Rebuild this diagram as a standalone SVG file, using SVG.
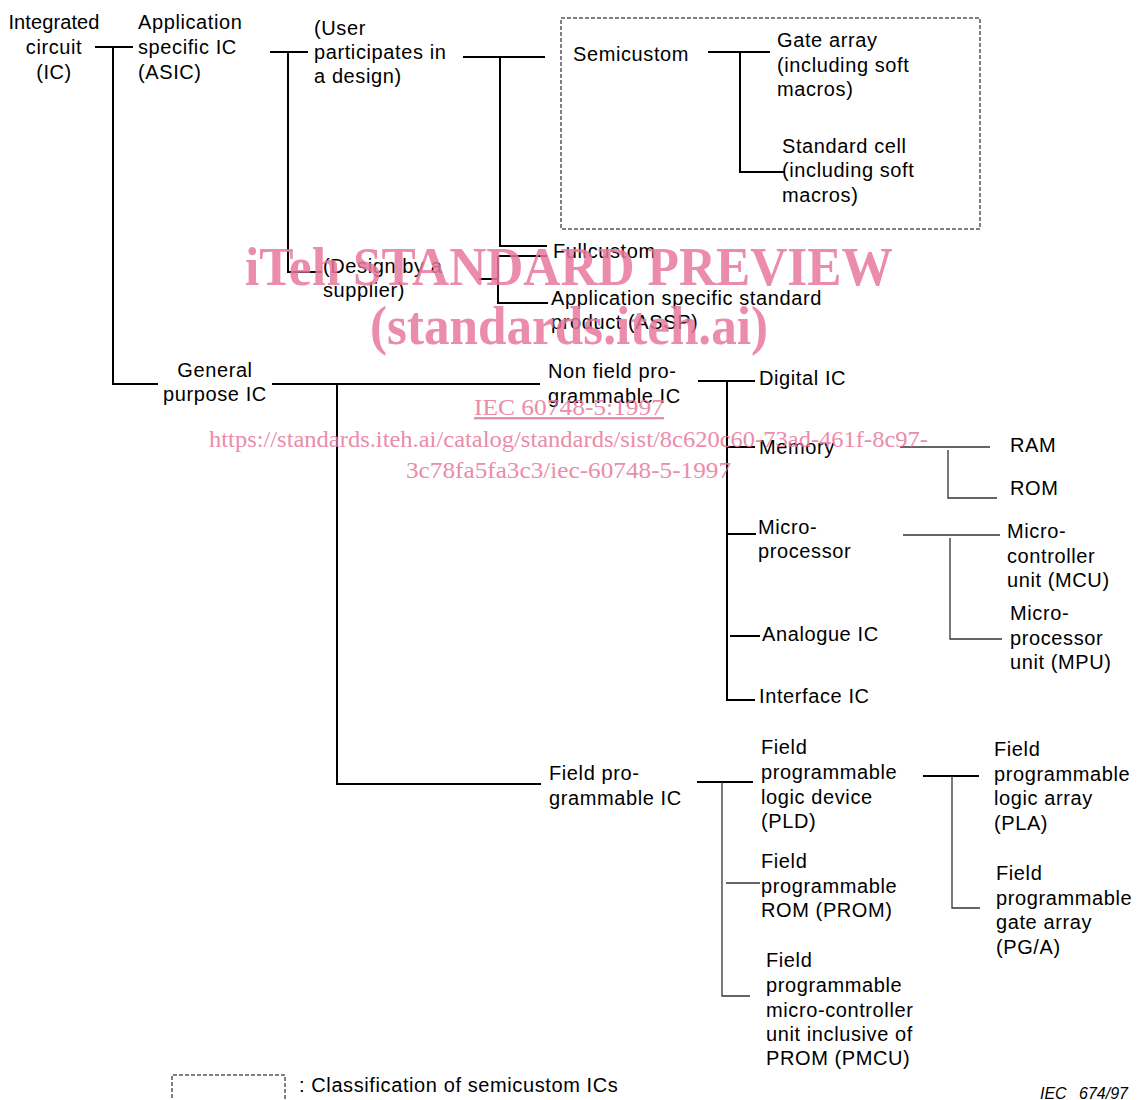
<svg xmlns="http://www.w3.org/2000/svg" width="1137" height="1100" viewBox="0 0 1137 1100">
<style>
text{font-family:"Liberation Sans",Arial,sans-serif;font-size:20px;letter-spacing:0.6px;fill:#000}
.c{text-anchor:middle}
.l{fill:none;stroke:#000;stroke-width:2}
.t{fill:none;stroke:#333;stroke-width:1.3}
.d{fill:none;stroke:#000;stroke-width:1;stroke-dasharray:4 2}
.wm{font-family:"Liberation Serif","Times New Roman",serif;fill:#e8789c;opacity:0.85;letter-spacing:0}
.wb{font-weight:bold;font-size:54px}
.wu{font-size:24px}
.ref{font-size:16px;font-style:italic;letter-spacing:0}
</style>
<rect width="1137" height="1100" fill="#fff"/>
<g id="connectors">
<path class="l" d="M95 47H133M113 47V384H158"/>
<path class="l" d="M270 52H308M288 52V272H322"/>
<path class="l" d="M463 57H545M500 57V246H547"/>
<path class="l" d="M498 256H547M498 256V303H548M479 279H498"/>
<path class="l" d="M708 52H770M740 52V172H785"/>
<path class="l" d="M272 384H540M337 384V784H541"/>
<path class="l" d="M698 381H755M727 381V700H755M727 447H755M727 534H756M730 636H760"/>
<path class="t" d="M900 447H990M948 450V498H997"/>
<path class="t" d="M903 535H1000M950 538V639H1002"/>
<path class="l" d="M697 782H753"/>
<path class="t" d="M722 782V996H750M726 883H760"/>
<path class="l" d="M923 776H979"/>
<path class="t" d="M952 776V908H980"/>
</g>
<g id="semicustom-box"><rect class="d" x="561" y="18" width="419" height="211"/></g>
<g id="ic"><text class="c" x="54" y="29" style="letter-spacing:0.1px">Integrated</text><text class="c" x="54" y="54">circuit</text><text class="c" x="54" y="79">(IC)</text></g>
<g id="asic"><text x="138" y="29">Application</text><text x="138" y="54">specific IC</text><text x="138" y="79">(ASIC)</text></g>
<g id="user"><text x="314" y="35">(User</text><text x="314" y="59">participates in</text><text x="314" y="83">a design)</text></g>
<g id="semicustom"><text x="573" y="61">Semicustom</text></g>
<g id="gate-array"><text x="777" y="47">Gate array</text><text x="777" y="72">(including soft</text><text x="777" y="96">macros)</text></g>
<g id="standard-cell"><text x="782" y="153">Standard cell</text><text x="782" y="177">(including soft</text><text x="782" y="202">macros)</text></g>
<g id="fullcustom"><text x="553" y="258">Fullcustom</text></g>
<g id="design-supplier"><text x="323" y="273">(Design by a</text><text x="323" y="297">supplier)</text></g>
<g id="assp"><text x="551" y="305">Application specific standard</text><text x="551" y="329">product (ASSP)</text></g>
<g id="general"><text class="c" x="215" y="377">General</text><text class="c" x="215" y="401">purpose IC</text></g>
<g id="nonfield"><text x="548" y="378">Non field pro-</text><text x="548" y="403">grammable IC</text></g>
<g id="digital"><text x="759" y="385">Digital IC</text></g>
<g id="memory"><text x="759" y="454">Memory</text></g>
<g id="ram"><text x="1010" y="452">RAM</text></g>
<g id="rom"><text x="1010" y="495">ROM</text></g>
<g id="microprocessor"><text x="758" y="534">Micro-</text><text x="758" y="558">processor</text></g>
<g id="mcu"><text x="1007" y="538">Micro-</text><text x="1007" y="563">controller</text><text x="1007" y="587">unit (MCU)</text></g>
<g id="mpu"><text x="1010" y="620">Micro-</text><text x="1010" y="645">processor</text><text x="1010" y="669">unit (MPU)</text></g>
<g id="analogue"><text x="762" y="641">Analogue IC</text></g>
<g id="interface"><text x="759" y="703">Interface IC</text></g>
<g id="field"><text x="549" y="780">Field pro-</text><text x="549" y="805">grammable IC</text></g>
<g id="pld"><text x="761" y="754">Field</text><text x="761" y="779">programmable</text><text x="761" y="804">logic device</text><text x="761" y="828">(PLD)</text></g>
<g id="prom"><text x="761" y="868">Field</text><text x="761" y="893">programmable</text><text x="761" y="917">ROM (PROM)</text></g>
<g id="pmcu"><text x="766" y="967">Field</text><text x="766" y="992">programmable</text><text x="766" y="1017">micro-controller</text><text x="766" y="1041">unit inclusive of</text><text x="766" y="1065">PROM (PMCU)</text></g>
<g id="pla"><text x="994" y="756">Field</text><text x="994" y="781">programmable</text><text x="994" y="805">logic array</text><text x="994" y="830">(PLA)</text></g>
<g id="pga"><text x="996" y="880">Field</text><text x="996" y="905">programmable</text><text x="996" y="929">gate array</text><text x="996" y="954">(PG/A)</text></g>
<g id="legend"><path class="d" d="M172 1110V1075H285V1110"/><text x="299" y="1092">: Classification of semicustom ICs</text></g>
<text class="ref" x="1040" y="1099">IEC<tspan x="1079">674/97</tspan></text>
<g id="watermark">
<text class="wm wb" x="245" y="285" textLength="648" lengthAdjust="spacingAndGlyphs">iTeh STANDARD PREVIEW</text>
<text class="wm wb" x="370" y="344" textLength="398" lengthAdjust="spacingAndGlyphs">(standards.iteh.ai)</text>
<text class="wm wu" x="474" y="415" textLength="190" lengthAdjust="spacingAndGlyphs" text-decoration="underline">IEC 60748-5:1997</text>
<text class="wm wu" x="209" y="447" textLength="719" lengthAdjust="spacingAndGlyphs">https://standards.iteh.ai/catalog/standards/sist/8c620c60-73ad-461f-8c97-</text>
<text class="wm wu" x="406" y="478" textLength="325" lengthAdjust="spacingAndGlyphs">3c78fa5fa3c3/iec-60748-5-1997</text>
</g>
</svg>
